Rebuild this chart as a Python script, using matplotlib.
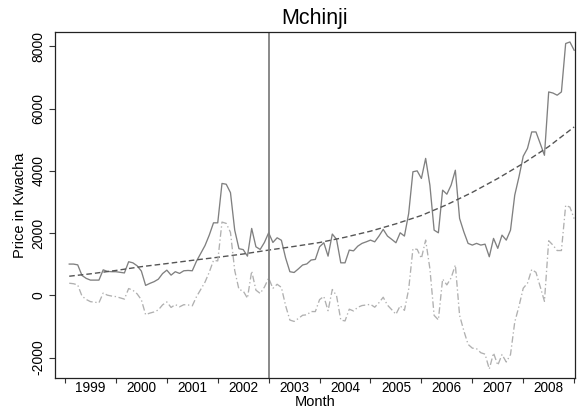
import matplotlib
matplotlib.use("Agg")
import matplotlib.pyplot as plt
import numpy as np

plt.rcParams["font.family"] = ["Liberation Sans", "DejaVu Sans"]

# months counted from Jan 1999 = 0
months = np.arange(1, 121)
price = [
    1005, 1005, 980, 640, 545, 490, 490, 490, 820, 770, 760, 760,
    740, 720, 1080, 1045, 950, 780, 320, 385, 440, 520, 700, 810,
    650, 760, 705, 790, 800, 790, 1100, 1350, 1600, 1935, 2330, 2330,
    3595, 3570, 3300, 2095, 1500, 1470, 1260, 2150, 1560, 1475, 1700, 2010,
    1700, 1850, 1770, 1200, 760, 735, 850, 975, 1010, 1135, 1155, 1560,
    1690, 1260, 1970, 1800, 1045, 1045, 1455, 1430, 1580, 1670, 1720, 1775,
    1720, 1905, 2120, 1905, 1800, 1690, 2010, 1905, 2630, 3970, 4000, 3755,
    4400, 3540, 2095, 2010, 3380, 3250, 3540, 4020, 2470, 2040, 1670, 1615,
    1670, 1615, 1645, 1240, 1830, 1510, 1935, 1775, 2095, 3220, 3810, 4470,
    4720, 5250, 5250, 4880, 4500, 6535, 6500, 6430, 6535, 8090, 8140, 7875,
]
detrended = [
    390, 374, 334, -21, -132, -202, -220, -238, 74, 6, -22, -40,
    -80, -121, 219, 164, 48, -142, -619, -570, -532, -468, -305, -211,
    -388, -296, -368, -300, -308, -335, -41, 192, 426, 745, 1123, 1107,
    2354, 2312, 2024, 801, 189, 141, -90, 779, 168, 62, 266, 555,
    225, 356, 256, -333, -793, -837, -743, -639, -624, -520, -521, -137,
    -35, -493, 188, -10, -793, -821, -444, -501, -384, -327, -309, -287,
    -381, -236, -60, -314, -459, -608, -333, -482, 198, 1493, 1479, 1189,
    1776, 858, -644, -787, 525, 337, 561, 975, -642, -1138, -1574, -1695,
    -1714, -1843, -1888, -2367, -1851, -2245, -1901, -2142, -1903, -858, -349, 230,
    390, 830, 740, 280, -190, 1755, 1615, 1440, 1440, 2890, 2835, 2465,
]
trend_months = [1, 6, 12, 18, 24, 30, 36, 42, 48, 54, 60, 66, 72, 78, 84,
                90, 96, 102, 108, 114, 120]
trend = [615, 692, 800, 922, 1021, 1125, 1223, 1329, 1455, 1572, 1697, 1866,
         2062, 2298, 2566, 2913, 3310, 3755, 4240, 4780, 5410]
break_month = 48
years = ["1999", "2000", "2001", "2002", "2003", "2004", "2005", "2006",
         "2007", "2008"]
yticks = [-2000, 0, 2000, 4000, 6000, 8000]

fig = plt.figure(figsize=(5.78, 4.12), dpi=100)
ax = fig.add_axes([0.0952, 0.0825, 0.8996, 0.8398])

ax.plot(months, price, color="#808080", linewidth=0.95)
ax.plot(trend_months, trend, color="#555555", linewidth=1.0,
        dashes=(4, 2.2))
ax.plot(months, detrended, color="#b0b0b0", linewidth=0.95,
        dashes=(5, 2, 1, 2))
ax.axvline(break_month, color="#808080", linewidth=1.3)

ax.set_xlim(-2.35, 120.2)
ax.set_ylim(-2655, 8460)

ax.set_xticks([12 * i for i in range(len(years) + 1)])
ax.set_xticklabels([])
ax.set_xticks([12 * i + 6 for i in range(len(years))], minor=True)
ax.set_xticklabels(years, minor=True, fontsize=9.8)
ax.tick_params(axis="x", which="major", length=3.5, width=0.8, color="#333333")
ax.tick_params(axis="x", which="minor", length=0, pad=2.5)

ax.set_yticks(yticks)
ax.set_yticklabels([str(v) for v in yticks], rotation=90, va="center",
                   fontsize=10)
ax.tick_params(axis="y", length=4, width=0.8, color="#333333", pad=3)

for side in ["left", "bottom", "top", "right"]:
    ax.spines[side].set_color("#222222")
    ax.spines[side].set_linewidth(0.9)

ax.set_xlabel("Month", fontsize=10.5, labelpad=0)
ax.set_ylabel("Price in Kwacha", fontsize=10.5, labelpad=3)
ax.set_title("Mchinji", fontsize=15.5, pad=5.5)

fig.savefig("out.png", dpi=100)
